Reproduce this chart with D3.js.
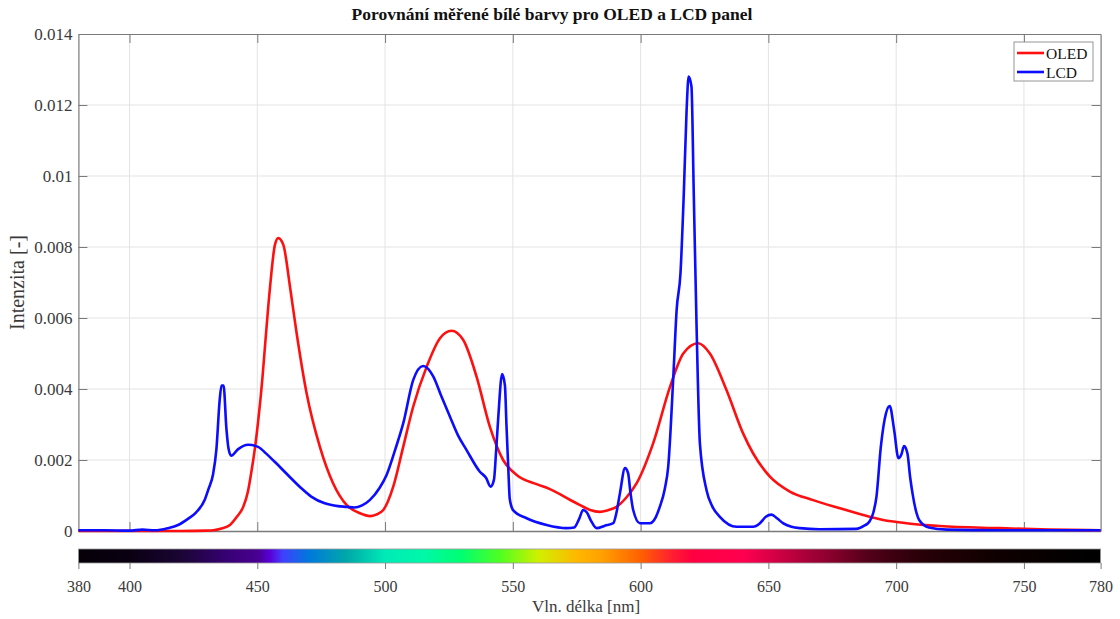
<!DOCTYPE html>
<html><head><meta charset="utf-8">
<script src="https://cdn.jsdelivr.net/npm/d3@7/dist/d3.min.js"></script>
<style>
html,body{margin:0;padding:0;background:#fff;}
svg{display:block;font-family:"Liberation Serif","Times New Roman",serif;}
</style></head>
<body>
<svg id="chart" width="1120" height="619"></svg>
<script>
// ---- data ----
const chartTitle = "Porovnání měřené bílé barvy pro OLED a LCD panel";
const seriesNames = ["OLED", "LCD"];
const xTicks = [380, 400, 450, 500, 550, 600, 650, 700, 750, 780];
const gridX = [400, 450, 500, 550, 600, 650, 700, 750];
const yTicks = [0, 0.002, 0.004, 0.006, 0.008, 0.01, 0.012, 0.014];
const yTickLabels = ["0", "0.002", "0.004", "0.006", "0.008", "0.01", "0.012", "0.014"];

const oledNm = [380,420,430,432.8,436,439.3,442,444.5,446.3,447.8,449.2,450.4,452,453,455,456.9,458.2,460.2,462.8,465.4,469.3,474.5,479.7,485,490.2,494.1,496.5,499.3,503.2,507.1,511,516.3,521.5,526,530.6,535.8,541,546.2,551.5,559.3,564.5,568.4,572.3,576.3,580,584.1,587,590.6,594.5,598.4,604.9,611.5,616.7,622.5,627.1,633.6,640.1,644,650.6,658.4,667.5,678,687.1,694.9,704,717,740.6,760,780];
const oledVal = [0,0,0.00001,0.00002,0.00007,0.00017,0.0004,0.00068,0.0011,0.00172,0.0024,0.00313,0.0043,0.00519,0.00688,0.00806,0.00825,0.00806,0.00688,0.00557,0.00388,0.00237,0.00134,0.00073,0.0005,0.00042,0.00046,0.00059,0.00125,0.00237,0.0035,0.00463,0.00543,0.00564,0.00538,0.00435,0.00294,0.002,0.00158,0.00132,0.00118,0.00104,0.00088,0.00073,0.0006,0.00054,0.00058,0.00068,0.00095,0.00134,0.00247,0.00406,0.005,0.00529,0.005,0.00397,0.00275,0.00219,0.00153,0.00111,0.00087,0.00064,0.00045,0.00031,0.00022,0.00014,0.00008,0.00004,0.00002];

const lcdNm = [380,390,400,405,410,415,419,423,426,429.4,431,432.7,434,435.3,436,436.8,437.9,438.8,439.8,442.4,446.4,450.3,453.5,456.8,463.3,467,471.1,476.4,481.6,485,488,491,494,497.9,500.6,504,507.1,511,514.9,518.9,522,525.4,528.5,531.9,537.1,539.5,541.3,542.6,543.5,544.3,545.8,546.9,547.5,548.2,548.8,550.1,555.4,563.2,571,574,576,577.5,579,580.5,582.8,586,589.3,590.5,591.9,593.9,595.1,596,597.1,599.7,603.6,606,607.5,609.5,610.8,612.8,614.1,615.6,616.9,618,618.8,619.9,620.8,621.9,623.2,625.8,628,631,637.6,644,646.7,649,651.2,653.5,655.7,659,662.3,670,684.4,687.5,689.5,691,692.3,694,696,697.5,699.2,700.9,702,703.1,704.4,705.5,706.4,708,709,712.8,720,740,760,780];
const lcdVal = [0.00002,0.00002,0.00001,0.00004,0.00002,0.00008,0.00017,0.00035,0.00052,0.00087,0.0012,0.0016,0.0023,0.0037,0.0041,0.0041,0.0029,0.0023,0.00212,0.0023,0.00243,0.00237,0.00218,0.00195,0.00148,0.00122,0.00097,0.00078,0.0007,0.00068,0.00066,0.00072,0.00087,0.00122,0.00158,0.0023,0.00303,0.00425,0.00465,0.00435,0.0038,0.00322,0.0027,0.00228,0.00167,0.0015,0.00125,0.00144,0.0023,0.0032,0.00442,0.0041,0.003,0.0018,0.0009,0.00059,0.00036,0.00017,0.00008,0.0001,0.00035,0.00059,0.00052,0.0003,0.00008,0.00015,0.00022,0.0005,0.00106,0.00177,0.00163,0.0011,0.00059,0.00022,0.00022,0.0004,0.00068,0.0012,0.00181,0.00435,0.00623,0.00726,0.00951,0.01186,0.0128,0.01252,0.00951,0.00576,0.00247,0.00115,0.0007,0.0004,0.00012,0.00012,0.00022,0.0004,0.00046,0.00035,0.00022,0.00012,0.00008,0.00005,0.00006,0.00015,0.00026,0.0005,0.00097,0.00237,0.00331,0.00352,0.00285,0.00205,0.00215,0.00239,0.00219,0.0015,0.00106,0.0005,0.00031,0.0001,0.00004,0.00002,0.00002,0.00002];

// spectrum colour bar stops
const specNm =  [380,400,420,440,450,455,460,470,485,500,515,530,545,560,575,585,600,612,620,640,658,672,690,710,737,776,780];
const specCol = ["#050008","#0a0012","#1a0533","#3a007a","#480090","#5a00d8","#4040ff","#0078dc","#00a8a8","#00eab8","#00f8a8","#00ff70","#50ff20","#d0f000","#ffb800","#ffa000","#ff6000","#ff2030","#ff0040","#ff0050","#c00040","#900030","#500018","#280008","#100000","#000000","#000000"];

// ---- layout ----
const svg = d3.select("#chart");
const L = 78.4, R = 1100.6, T = 34, B = 531;
const x = d3.scaleLinear().domain([380, 780]).range([L, R]);
const y = d3.scaleLinear().domain([0, 0.014]).range([B, T]);
const axisCol = "#7a7a7a", textCol = "#3a3a3a";

// grid
const g = svg.append("g");
g.selectAll(".gx").data(gridX).enter().append("line")
  .attr("x1", d => x(d)).attr("x2", d => x(d)).attr("y1", T).attr("y2", B)
  .attr("stroke", "#e3e3e3").attr("stroke-width", 1);
g.selectAll(".gy").data(yTicks.slice(1, -1)).enter().append("line")
  .attr("x1", L).attr("x2", R).attr("y1", d => y(d)).attr("y2", d => y(d))
  .attr("stroke", "#e3e3e3").attr("stroke-width", 1);

// axes (MATLAB-style inner ticks)
const fmt = d => yTickLabels[yTicks.indexOf(d)];
const yAx = svg.append("g").attr("transform", `translate(${L},0)`)
  .call(d3.axisLeft(y).tickValues(yTicks).tickFormat(fmt).tickSizeInner(-9).tickSizeOuter(0).tickPadding(6));
const yAxR = svg.append("g").attr("transform", `translate(${R},0)`)
  .call(d3.axisRight(y).tickValues(yTicks).tickFormat("").tickSizeInner(-9).tickSizeOuter(0));
const xAxB = svg.append("g").attr("transform", `translate(0,${B})`)
  .call(d3.axisBottom(x).tickValues(gridX).tickFormat("").tickSizeInner(-9).tickSizeOuter(0));
const xAxT = svg.append("g").attr("transform", `translate(0,${T})`)
  .call(d3.axisTop(x).tickValues(gridX).tickFormat("").tickSizeInner(-9).tickSizeOuter(0));
[yAx, yAxR, xAxB, xAxT].forEach(a => {
  a.select(".domain").attr("stroke", axisCol).attr("stroke-width", 1.2);
  a.selectAll(".tick line").attr("stroke", axisCol).attr("stroke-width", 1);
});
yAx.selectAll(".tick text").attr("font-family", "Liberation Serif").attr("font-size", 17).attr("fill", textCol);
xAxB.select(".domain").attr("stroke-width", 1.6);

// lines
const line = d3.line().x(d => x(d[0])).y(d => y(d[1])).curve(d3.curveMonotoneX);
const oled = oledNm.map((n, i) => [n, oledVal[i]]);
const lcd = lcdNm.map((n, i) => [n, lcdVal[i]]);
const plot = svg.append("g");
plot.append("path").datum(oled).attr("d", line).attr("fill", "none")
  .attr("stroke", "#ff1010").attr("stroke-width", 2.6).attr("stroke-linejoin", "round");
plot.append("path").datum(lcd).attr("d", line).attr("fill", "none")
  .attr("stroke", "#0c0cff").attr("stroke-width", 2.6).attr("stroke-linejoin", "round");

// colour bar
const defs = svg.append("defs");
const grad = defs.append("linearGradient").attr("id", "spec")
  .attr("gradientUnits", "userSpaceOnUse").attr("x1", L).attr("x2", R).attr("y1", 0).attr("y2", 0);
grad.selectAll("stop").data(specNm).enter().append("stop")
  .attr("offset", d => (d - 380) / 400).attr("stop-color", (d, i) => specCol[i]);
const cbT = 549, cbB = 563;
svg.append("rect").attr("x", L).attr("y", cbT).attr("width", R - L).attr("height", cbB - cbT)
  .attr("fill", "url(#spec)").attr("stroke", "#9a9a9a").attr("stroke-width", 0.8);
const xAxC = svg.append("g").attr("transform", `translate(0,${cbB})`)
  .call(d3.axisBottom(x).tickValues(xTicks).tickSizeInner(6).tickSizeOuter(0).tickPadding(12).tickFormat(d => String(d)));
xAxC.select(".domain").remove();
xAxC.selectAll(".tick line").attr("stroke", axisCol);
xAxC.selectAll(".tick text").attr("font-family", "Liberation Serif").attr("font-size", 16).attr("fill", textCol);

// labels
svg.append("text").attr("x", 552).attr("y", 20).attr("text-anchor", "middle")
  .attr("font-size", 17.5).attr("font-weight", "bold").attr("fill", "#111").text(chartTitle);
svg.append("text").attr("x", 586).attr("y", 612).attr("text-anchor", "middle")
  .attr("font-size", 17).attr("fill", textCol).text("Vln. délka [nm]");
svg.append("text").attr("transform", `translate(24,${(T + B) / 2}) rotate(-90)`).attr("text-anchor", "middle")
  .attr("font-size", 20).attr("fill", textCol).text("Intenzita [-]");

// legend
const lg = svg.append("g").attr("transform", "translate(1014,42)");
lg.append("rect").attr("width", 79).attr("height", 39).attr("fill", "#fff").attr("stroke", "#8a8a8a").attr("stroke-width", 0.9);
const legCols = ["#ff1010", "#0c0cff"];
seriesNames.forEach((n, i) => {
  const yy = 11 + i * 19;
  lg.append("line").attr("x1", 3).attr("x2", 30).attr("y1", yy).attr("y2", yy)
    .attr("stroke", legCols[i]).attr("stroke-width", 2.6);
  lg.append("text").attr("x", 32).attr("y", yy + 5.5).attr("font-size", 15.5).attr("fill", "#111").text(n);
});
</script>
</body></html>
